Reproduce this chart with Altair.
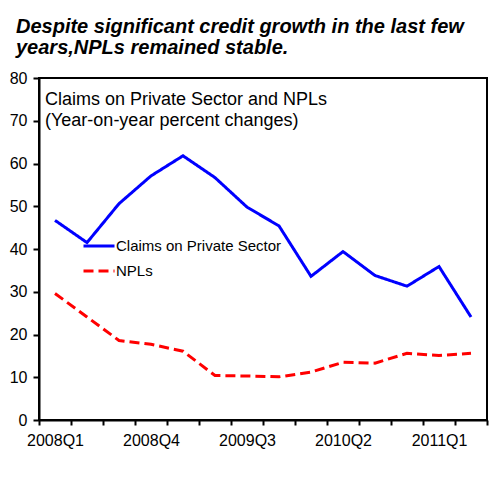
import altair as alt
import pandas as pd

quarters = ["2008Q1", "2008Q2", "2008Q3", "2008Q4", "2009Q1", "2009Q2", "2009Q3",
            "2009Q4", "2010Q1", "2010Q2", "2010Q3", "2010Q4", "2011Q1", "2011Q2"]
claims = [46.7, 41.5, 50.6, 57.1, 61.8, 56.7, 49.8, 45.4, 33.6, 39.4, 33.8, 31.3, 35.9, 24.1]
npls = [29.6, 24.1, 18.6, 17.7, 16.1, 10.4, 10.3, 10.1, 11.2, 13.5, 13.3, 15.6, 15.1, 15.6]
series_names = ["Claims on Private Sector", "NPLs"]
shown_labels = ["2008Q1", "2008Q4", "2009Q3", "2010Q2", "2011Q1"]
title_lines = ["Despite significant credit growth in the last few", "years,NPLs remained stable."]
inner_lines = ["Claims on Private Sector and NPLs", "(Year-on-year percent changes)"]

rows = []
for q, c, n in zip(quarters, claims, npls):
    rows.append({"quarter": q, "series": series_names[0], "value": c})
    rows.append({"quarter": q, "series": series_names[1], "value": n})
df = pd.DataFrame(rows)

FONT = "Liberation Sans"
label_expr = "indexof(" + str(shown_labels) + ", datum.value) >= 0 ? datum.value : ''"

lines = alt.Chart(df).mark_line(strokeWidth=3).encode(
    x=alt.X("quarter:O", sort=quarters,
            scale=alt.Scale(type="band", paddingInner=0, paddingOuter=0),
            axis=alt.Axis(title=None, labelAngle=0, labelExpr=label_expr, labelOverlap=False,
                          tickBand="extent", tickSize=5, tickColor="black", tickWidth=2,
                          domainColor="black", domainWidth=2, labelFont=FONT, labelFontSize=16,
                          labelColor="black", labelPadding=7)),
    y=alt.Y("value:Q", scale=alt.Scale(domain=[0, 80], nice=False),
            axis=alt.Axis(title=None, values=list(range(0, 81, 10)), grid=False,
                          tickSize=6, tickColor="black", tickWidth=2, domainColor="black",
                          domainWidth=2, labelFont=FONT, labelFontSize=16, labelColor="black",
                          labelPadding=6)),
    color=alt.Color("series:N", sort=series_names,
                    scale=alt.Scale(domain=series_names, range=["#0000ff", "#ff0000"]),
                    legend=alt.Legend(title=None, orient="none", legendX=43, legendY=151,
                                      symbolType="stroke", symbolSize=961, symbolStrokeWidth=3,
                                      labelFont=FONT, labelFontSize=15, labelColor="black",
                                      labelOffset=0, labelLimit=400, rowPadding=-8, padding=0)),
    strokeDash=alt.StrokeDash("series:N", sort=series_names,
                              scale=alt.Scale(domain=series_names, range=[[1, 0], [10, 5]]),
                              legend=None),
)

txt1 = alt.Chart().mark_text(align="left", baseline="alphabetic", font=FONT, fontSize=18,
                             color="black").encode(
    x=alt.value(6), y=alt.value(27.4), text=alt.value(inner_lines[0]))
txt2 = alt.Chart().mark_text(align="left", baseline="alphabetic", font=FONT, fontSize=18,
                             color="black").encode(
    x=alt.value(6), y=alt.value(48.4), text=alt.value(inner_lines[1]))

chart = alt.layer(lines, txt1, txt2).properties(
    width=448, height=342,
    autosize=alt.AutoSizeParams(type="none"),
    padding={"left": 31, "top": 70, "right": 8, "bottom": 40},
    title=alt.TitleParams(text=title_lines, anchor="start", frame="group", font=FONT,
                          fontSize=20, fontWeight="bold", fontStyle="italic", color="black",
                          lineHeight=21.5, dx=-23, offset=12),
).configure_view(stroke="black", strokeWidth=2)

chart.save("out.html", embed_options={"renderer": "svg", "actions": False})
